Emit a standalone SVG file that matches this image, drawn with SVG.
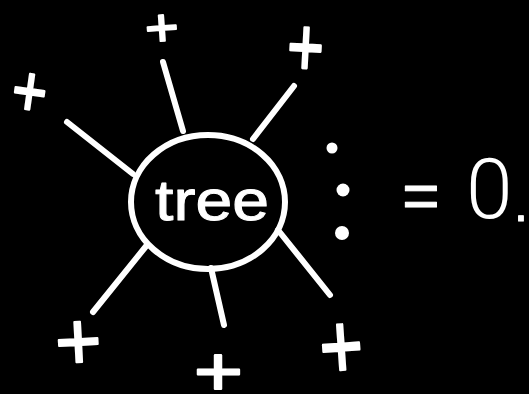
<svg xmlns="http://www.w3.org/2000/svg" width="529" height="394" viewBox="0 0 529 394">
<style>
.bg{fill:#000}
.ink{fill:none;stroke:#fff;stroke-width:6;stroke-linecap:round;stroke-linejoin:round}
.plus{font-family:"Liberation Sans",Arial,sans-serif;fill:#fff;stroke:#fff;stroke-width:2;stroke-linejoin:round;text-anchor:middle}
.label{font-family:"Liberation Sans",Arial,sans-serif;fill:#fff;stroke:#fff;stroke-width:1;stroke-linejoin:round;text-anchor:middle}
.thin{font-family:Roboto,"Liberation Sans",sans-serif;font-weight:300;fill:#fff}
.dot{fill:#fff}
</style>
<rect class="bg" width="529" height="394"/>
<g id="connectors" class="ink">
<line x1="183" y1="131" x2="163" y2="62"/>
<line x1="253" y1="139" x2="294" y2="86"/>
<line x1="133" y1="174" x2="67" y2="122"/>
<line x1="147" y1="245" x2="93" y2="312"/>
<line x1="211" y1="268" x2="224" y2="325"/>
<line x1="278" y1="230" x2="330" y2="295"/>
</g>
<g id="tree">
<ellipse class="ink" cx="208" cy="202" rx="77" ry="67"/>
<text class="label" x="212" y="220" font-size="58" textLength="114" lengthAdjust="spacingAndGlyphs">tree</text>
</g>
<g id="plus-top"><text class="plus" font-size="53" transform="translate(163,28) rotate(-4) scale(1.08,1) rotate(90)" y="18.8">+</text></g>
<g id="plus-topright"><text class="plus" font-size="62" transform="translate(307,48) rotate(3) scale(1,1.34) rotate(90)" y="22">+</text></g>
<g id="plus-left"><text class="plus" font-size="60" transform="translate(30,90) rotate(8) scale(1,1.2)" y="21.3">+</text></g>
<g id="plus-bottomleft"><text class="plus" font-size="79" transform="translate(80,342) rotate(-3) scale(1,1.05) rotate(90)" y="28">+</text></g>
<g id="plus-bottom"><text class="plus" font-size="70" transform="translate(221,372) scale(1.2,1) rotate(90)" y="24.9">+</text></g>
<g id="plus-bottomright"><text class="plus" font-size="74" transform="translate(343,347) rotate(-4) scale(1,1.26) rotate(90)" y="26.3">+</text></g>
<g id="expr">
<circle class="dot" cx="332" cy="148" r="5.5"/>
<circle class="dot" cx="343" cy="190" r="6.5"/>
<circle class="dot" cx="342" cy="233" r="7"/>
<text class="label" x="421" y="217.5" font-size="64">=</text>
<text class="thin" x="466" y="218" font-size="84">0</text>
<text class="label" x="528" y="221" font-size="50" style="text-anchor:end">.</text>
</g>
</svg>
